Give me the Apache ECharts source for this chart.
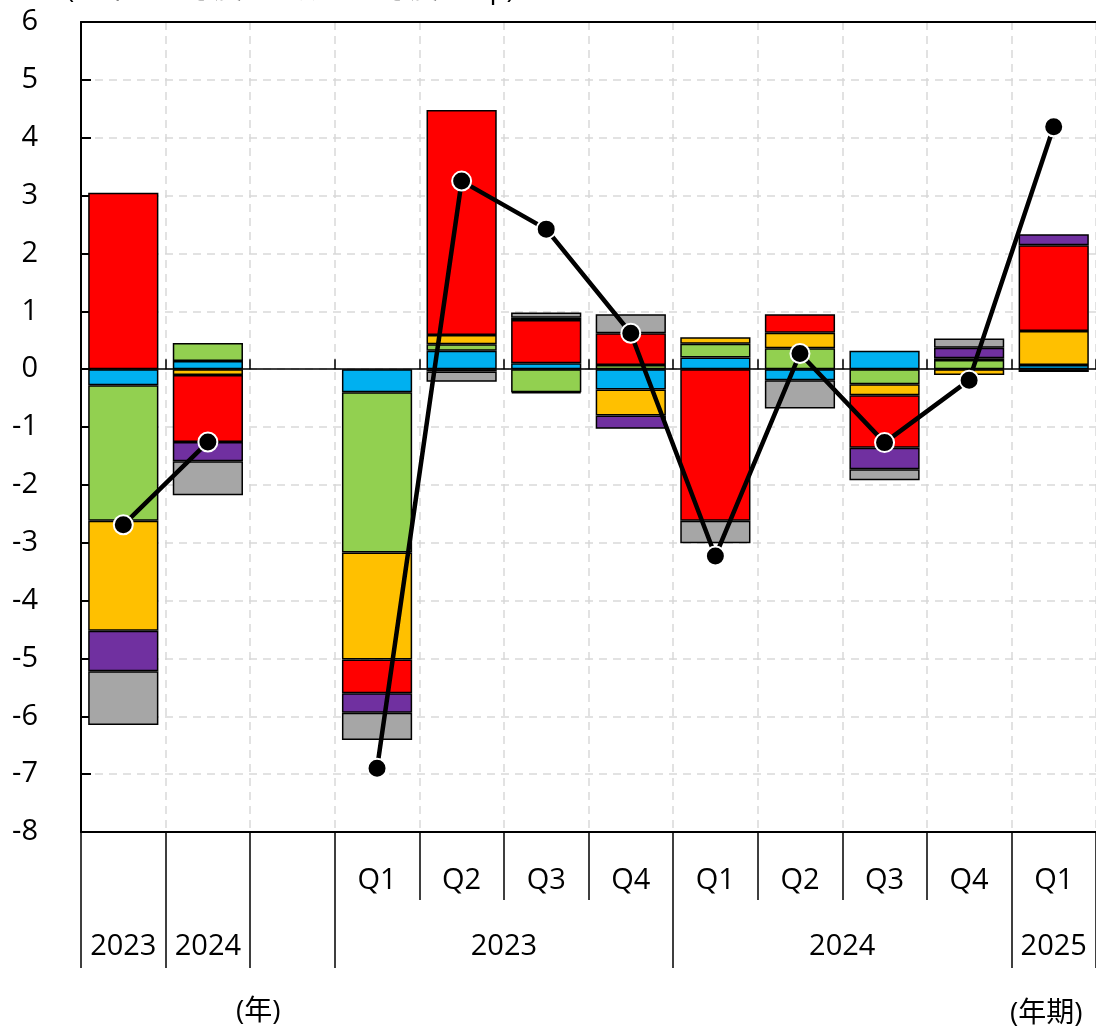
<!DOCTYPE html>
<html>
<head>
<meta charset="utf-8">
<script src="https://cdn.jsdelivr.net/npm/echarts@6/dist/echarts.min.js"></script>
<style>
  html, body { margin: 0; padding: 0; background: #fff; }
  #chart { width: 1096px; height: 1030px; }
</style>
</head>
<body>
<div id="chart"></div>
<script>
  const categories = ['2023', '2024', '', '2023Q1', '2023Q2', '2023Q3', '2023Q4', '2024Q1', '2024Q2', '2024Q3', '2024Q4', '2025Q1']

  // year groups under the quarter row
  const groupLabels = ['2023', '2024', '', '2023', '2024', '2025']
  const groupBounds = [0, 1, 2, 3, 7, 11, 12]

  const blueData = [-0.28, 0.14, null, -0.40, 0.32, 0.10, -0.35, 0.20, -0.19, 0.32, null, 0.07]
  const greenData = [-2.34, 0.31, null, -2.77, 0.11, -0.40, 0.07, 0.24, 0.36, -0.26, 0.16, null]
  const yellowData = [-1.90, -0.10, null, -1.85, 0.16, -0.02, -0.45, 0.11, 0.27, -0.19, -0.10, 0.59]
  const redData = [3.05, -1.16, null, -0.58, 3.89, 0.75, 0.55, -2.62, 0.32, -0.91, 0.03, 1.48]
  const purpleData = [-0.70, -0.33, null, -0.34, -0.04, 0.04, -0.23, null, null, -0.37, 0.18, 0.19]
  const grayData = [-0.93, -0.59, null, -0.47, -0.18, 0.09, 0.33, -0.39, -0.49, -0.19, 0.16, -0.05]
  const totalData = [-2.69, -1.26, null, -6.90, 3.25, 2.42, 0.62, -3.23, 0.27, -1.27, -0.19, 4.19]

  const yTicks = [-8, -7, -6, -5, -4, -3, -2, -1, 0, 1, 2, 3, 4, 5, 6]

  const font = "'Open Sans', 'Noto Sans CJK JP', sans-serif"

  const groupCenters = groupLabels.map((g, i) => (groupBounds[i] + groupBounds[i + 1]) / 2)

  const stackSeries = [
    ['blue', '#00b0f0', blueData],
    ['green', '#92d050', greenData],
    ['yellow', '#ffc000', yellowData],
    ['red', '#ff0000', redData],
    ['purple', '#7030a0', purpleData],
    ['gray', '#a6a6a6', grayData],
  ].map(([name, color, data]) => ({
    name,
    type: 'bar',
    stack: 'contrib',
    barWidth: '83%',
    xAxisIndex: 0,
    itemStyle: {
      color,
      borderColor: '#000',
      borderWidth: 1.5,
    },
    data,
  }))

  const option = {
    animation: false,
    textStyle: { fontFamily: font },
    grid: {
      left: 81,
      right: 0,
      top: 22,
      bottom: 198,
    },
    xAxis: [
      {
        type: 'category',
        data: categories,
        position: 'bottom',
        axisLine: { show: true, onZero: false, lineStyle: { color: '#000', width: 2 } },
        axisTick: {
          show: true,
          interval: 0,
          length: 68,
          lineStyle: { color: '#000', width: 1.5 },
        },
        axisLabel: {
          interval: 0,
          margin: 34,
          fontSize: 29,
          color: '#000',
          fontFamily: font,
          formatter: v => (v.includes('Q') ? v.slice(4) : ''),
        },
        splitLine: {
          show: true,
          interval: 0,
          lineStyle: { color: '#d9d9d9', width: 1.5, type: [8, 6] },
        },
      },
      {
        type: 'value',
        min: 0,
        max: 12,
        position: 'bottom',
        offset: 68,
        axisLine: { show: false, onZero: false },
        axisTick: {
          show: true,
          customValues: groupBounds,
          length: 68,
          lineStyle: { color: '#000', width: 1.5 },
        },
        axisLabel: {
          customValues: groupCenters,
          margin: 32,
          fontSize: 29,
          color: '#000',
          fontFamily: font,
          formatter: v => {
            const i = groupCenters.indexOf(v)
            return i >= 0 ? groupLabels[i] : ''
          },
        },
        splitLine: { show: false },
      },
      {
        // zero line with small upward ticks
        type: 'category',
        data: categories,
        position: 'bottom',
        axisLine: { show: true, onZero: true, lineStyle: { color: '#000', width: 1.5 } },
        axisTick: {
          show: true,
          inside: true,
          interval: 0,
          length: 10,
          lineStyle: { color: '#000', width: 1.5 },
        },
        axisLabel: { show: false },
        splitLine: { show: false },
      },
      {
        // top frame line
        type: 'category',
        data: categories,
        position: 'top',
        axisLine: { show: true, onZero: false, lineStyle: { color: '#000', width: 2 } },
        axisTick: { show: false },
        axisLabel: { show: false },
        splitLine: { show: false },
      },
    ],
    yAxis: {
      type: 'value',
      min: yTicks[0],
      max: yTicks[yTicks.length - 1],
      interval: 1,
      axisLine: { show: true, onZero: false, lineStyle: { color: '#000', width: 2 } },
      axisTick: {
        show: true,
        inside: true,
        length: 10,
        lineStyle: { color: '#000', width: 2 },
      },
      axisLabel: {
        margin: 43,
        fontSize: 29,
        color: '#000',
        fontFamily: font,
      },
      splitLine: {
        show: true,
        lineStyle: { color: '#d9d9d9', width: 1.5, type: [8, 6] },
      },
    },
    series: [
      ...stackSeries,
      {
        name: 'total',
        type: 'line',
        xAxisIndex: 0,
        data: totalData,
        connectNulls: false,
        z: 10,
        symbol: 'circle',
        symbolSize: 19,
        lineStyle: { color: '#000', width: 4.5 },
        itemStyle: { color: '#000', borderColor: '#fff', borderWidth: 2 },
      },
    ],
    graphic: [
      {
        type: 'text',
        left: 66,
        top: -24,
        style: { text: '(前年比寄与度、前期比寄与度、%p)', fontSize: 28, fontFamily: font, fill: '#000' },
      },
      {
        type: 'text',
        left: 236,
        top: 998,
        style: { text: '(年)', fontSize: 28, fontFamily: font, fill: '#000' },
      },
      {
        type: 'text',
        left: 1010,
        top: 1000,
        style: { text: '(年期)', fontSize: 28, fontFamily: font, fill: '#000' },
      },
    ],
  }

  const chart = echarts.init(document.getElementById('chart'))
  chart.setOption(option)
</script>
</body>
</html>
